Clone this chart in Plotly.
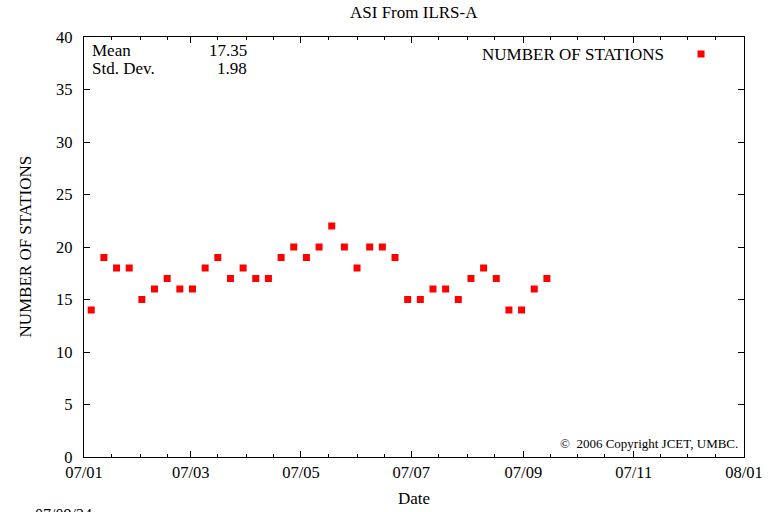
import plotly.graph_objects as go

# weekly sample dates
dates = [
    "2007-01-05", "2007-01-12", "2007-01-19", "2007-01-26", "2007-02-02",
    "2007-02-09", "2007-02-16", "2007-02-23", "2007-03-02", "2007-03-09",
    "2007-03-16", "2007-03-23", "2007-03-30", "2007-04-06", "2007-04-13",
    "2007-04-20", "2007-04-27", "2007-05-04", "2007-05-11", "2007-05-18",
    "2007-05-25", "2007-06-01", "2007-06-08", "2007-06-15", "2007-06-22",
    "2007-06-29", "2007-07-06", "2007-07-13", "2007-07-20", "2007-07-27",
    "2007-08-03", "2007-08-10", "2007-08-17", "2007-08-24", "2007-08-31",
    "2007-09-07", "2007-09-14",
]
stations = [
    14, 19, 18, 18, 15, 16, 17, 16, 16, 18,
    19, 17, 18, 17, 17, 19, 20, 19, 20, 22,
    20, 18, 20, 20, 19, 15, 15, 16, 16, 15,
    17, 18, 17, 14, 14, 16, 17,
]
mean_txt = "17.35"
std_txt = "1.98"

# minor ticks every half month
minor_vals = []
for m in range(1, 13):
    minor_vals.append(f"2007-{m:02d}-01")
    minor_vals.append(f"2007-{m:02d}-16")
minor_vals.append("2008-01-01")

FONT = "Liberation Serif"
RED = "#ff0000"

fig = go.Figure()
fig.add_trace(go.Scatter(
    x=dates, y=stations, mode="markers",
    marker=dict(symbol="square", size=7, color=RED, line=dict(width=0)),
    name="NUMBER OF STATIONS", showlegend=False,
))

axis_common = dict(
    showline=True, linecolor="black", linewidth=1.2, mirror="ticks",
    ticks="inside", ticklen=6, tickcolor="black", tickwidth=1,
    showgrid=False, zeroline=False,
    tickfont=dict(family=FONT, size=16.5, color="black"),
)

fig.update_layout(
    width=774, height=512,
    margin=dict(l=84, r=30, t=37, b=55),
    paper_bgcolor="white", plot_bgcolor="white",
    font=dict(family=FONT, size=17, color="black"),
    showlegend=False,
    xaxis=dict(
        type="date", range=["2007-01-01", "2008-01-01"],
        tick0="2007-01-01", dtick="M2", tickformat="%y/%m",
        minor=dict(tickmode="array", tickvals=minor_vals, ticks="inside",
                   ticklen=3, tickcolor="black", showgrid=False),
        **axis_common,
    ),
    yaxis=dict(range=[0, 40], dtick=5, ticklabelstandoff=7, **axis_common),
)

ann = []
ann.append(dict(text="ASI From ILRS-A", xref="paper", yref="paper", x=0.5, y=1.0595,
                xanchor="center", yanchor="middle", showarrow=False))
ann.append(dict(text="Date", xref="paper", yref="paper", x=0.5, y=-0.098,
                xanchor="center", yanchor="middle", showarrow=False))
ann.append(dict(text="NUMBER OF STATIONS", xref="paper", yref="paper", x=-0.090, y=0.5,
                xanchor="center", yanchor="middle", textangle=-90, showarrow=False))
ann.append(dict(text="Mean", xref="paper", yref="paper", x=0.0098, y=0.969,
                xanchor="left", yanchor="middle", showarrow=False))
ann.append(dict(text="Std. Dev.", xref="paper", yref="paper", x=0.0098, y=0.926,
                xanchor="left", yanchor="middle", showarrow=False))
ann.append(dict(text=mean_txt, xref="paper", yref="paper", x=0.2506, y=0.969,
                xanchor="right", yanchor="middle", showarrow=False))
ann.append(dict(text=std_txt, xref="paper", yref="paper", x=0.2506, y=0.926,
                xanchor="right", yanchor="middle", showarrow=False))
ann.append(dict(text="NUMBER OF STATIONS", xref="paper", yref="paper", x=0.882, y=0.9595,
                xanchor="right", yanchor="middle", showarrow=False))
ann.append(dict(text="©  2006 Copyright JCET, UMBC.", xref="paper", yref="paper",
                x=0.9939, y=0.031, xanchor="right", yanchor="middle", showarrow=False,
                font=dict(size=13)))
# date stamp cut off at the bottom edge
ann.append(dict(text="07/09/24", xref="paper", yref="paper", x=(33 - 84) / 660, y=-(504 - 457) / 420,
                xanchor="left", yanchor="top", showarrow=False, font=dict(size=16)))
fig.update_layout(annotations=ann)

# legend key
fig.add_shape(type="rect", xref="paper", yref="paper",
              x0=0.9349 - 0.0053, x1=0.9349 + 0.0053, y0=0.9595 - 0.0083, y1=0.9595 + 0.0083,
              fillcolor=RED, line=dict(width=0))

fig.write_html("out.html", config={"displayModeBar": False},
               post_script="document.body.style.margin='0';document.body.style.overflow='hidden';")
